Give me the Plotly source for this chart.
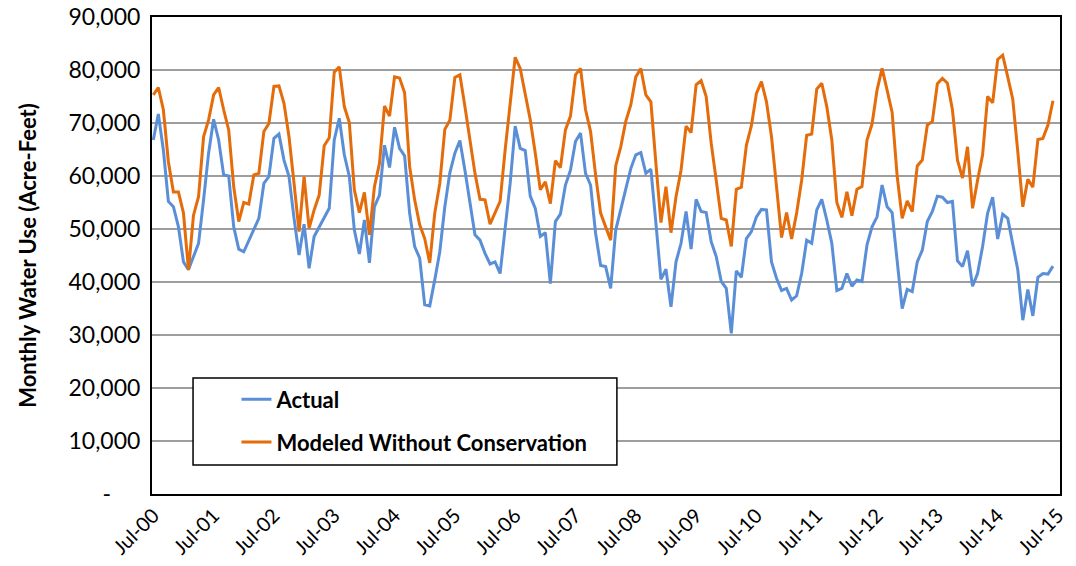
import plotly.graph_objects as go

# Monthly values, Jul-2000 .. Jun-2015 (thousands of acre-feet)
actual_k = [
    66.8, 71.7, 64.9, 55.2, 54.2, 50.4, 43.8, 42.3, 44.8, 47.3, 55.5, 64.3,
    70.7, 66.8, 60.2, 60.0, 50.4, 46.2, 45.7, 47.9, 50.1, 52.0, 58.6, 59.9,
    67.1, 67.9, 63.0, 59.9, 52.0, 45.1, 50.9, 42.6, 48.6, 50.4, 52.3, 53.9,
    66.8, 70.9, 64.0, 59.9, 49.8, 45.3, 51.7, 43.6, 54.2, 56.4, 65.8, 61.6,
    69.2, 65.2, 63.8, 53.0, 46.7, 44.5, 35.7, 35.5, 40.4, 45.7, 54.2, 60.6,
    64.3, 66.7, 61.1, 54.8, 48.9, 47.9, 45.4, 43.4, 43.8, 41.6, 50.4, 58.6,
    69.4, 65.2, 64.8, 56.2, 53.9, 48.6, 49.3, 39.7, 51.4, 52.8, 58.3, 61.1,
    66.5, 68.1, 60.5, 58.3, 49.2, 43.1, 42.9, 38.8, 49.8, 53.6, 57.7, 61.4,
    64.0, 64.4, 60.5, 61.3, 51.1, 40.5, 42.4, 35.3, 43.8, 47.3, 53.3, 46.2,
    55.6, 53.3, 53.1, 47.6, 44.8, 40.1, 38.8, 30.3, 42.1, 40.9, 48.2, 49.5,
    52.3, 53.7, 53.6, 43.8, 40.7, 38.4, 38.8, 36.6, 37.4, 41.6, 47.9, 47.3,
    53.6, 55.6, 51.7, 47.3, 38.4, 38.8, 41.6, 39.2, 40.4, 40.1, 47.0, 50.4,
    52.3, 58.3, 54.2, 53.1, 44.0, 35.0, 38.6, 38.2, 43.8, 46.0, 51.4, 53.3,
    56.2, 56.0, 55.0, 55.2, 44.0, 42.9, 45.9, 39.2, 41.6, 46.7, 53.0, 56.0,
    48.1, 52.8, 52.0, 47.2, 42.3, 32.8, 38.6, 33.6, 40.9, 41.6, 41.5, 43.0,
]

modeled_k = [
    75.3, 76.7, 72.5, 62.7, 57.0, 57.0, 53.0, 42.3, 52.6, 56.1, 67.4, 70.6,
    75.3, 76.7, 72.5, 68.7, 58.0, 51.4, 55.0, 54.7, 60.2, 60.5, 68.4, 69.9,
    76.9, 77.0, 73.7, 67.4, 58.6, 49.5, 59.9, 50.1, 53.6, 56.4, 65.7, 67.2,
    79.6, 80.6, 73.1, 70.1, 57.4, 53.1, 56.9, 48.9, 58.0, 62.4, 73.2, 71.3,
    78.7, 78.5, 75.7, 61.8, 55.5, 50.8, 48.2, 43.6, 53.0, 58.6, 68.8, 70.5,
    78.6, 79.1, 73.1, 66.8, 60.5, 55.6, 55.5, 50.9, 53.0, 55.2, 64.9, 73.1,
    82.4, 80.3, 75.6, 70.6, 64.3, 57.4, 58.9, 54.8, 62.9, 61.6, 68.7, 71.3,
    79.1, 80.3, 72.5, 68.4, 60.2, 53.0, 50.4, 47.9, 61.9, 65.5, 70.3, 73.4,
    78.7, 80.3, 75.3, 74.0, 62.4, 51.2, 58.0, 49.3, 56.1, 61.1, 69.4, 68.2,
    77.2, 78.0, 75.0, 66.2, 59.2, 52.0, 51.7, 46.7, 57.5, 57.9, 65.8, 69.5,
    75.6, 77.8, 74.0, 67.4, 58.0, 48.4, 53.1, 48.1, 53.0, 59.2, 67.7, 67.9,
    76.4, 77.5, 73.1, 66.8, 55.0, 52.2, 57.0, 52.5, 57.5, 58.0, 66.8, 69.8,
    76.2, 80.3, 76.2, 72.0, 60.0, 52.0, 55.3, 53.3, 61.9, 63.0, 69.6, 70.3,
    77.4, 78.4, 77.5, 72.5, 63.0, 59.6, 65.5, 53.9, 59.2, 64.0, 75.0, 73.8,
    82.0, 82.8, 78.7, 74.5, 64.6, 54.2, 59.4, 57.9, 66.9, 67.1, 69.6, 74.2,
]

tick_labels = ["Jul-%02d" % y for y in range(0, 16)]
y_tick_values = list(range(0, 90001, 10000))
y_tick_labels = ["-" + "\u00a0" * 5] + ["{:,}".format(v) for v in y_tick_values[1:]]

month_index = list(range(len(actual_k)))
actual = [v * 1000 for v in actual_k]
modeled = [v * 1000 for v in modeled_k]

FONT = "Lato, 'Open Sans', sans-serif"

fig = go.Figure()
fig.add_trace(go.Scatter(
    x=month_index, y=actual, mode="lines", name="<b>Actual</b>",
    legendgroup="a", line=dict(color="#5A8FD8", width=3)))
fig.add_trace(go.Scatter(
    x=month_index, y=modeled, mode="lines",
    name="<b>Modeled Without Conservation</b>",
    legendgroup="b", line=dict(color="#E46C0A", width=3)))

fig.update_layout(
    width=1076, height=566,
    margin=dict(l=152, r=16, t=17, b=72, autoexpand=False),
    paper_bgcolor="white", plot_bgcolor="white",
    font=dict(family=FONT, color="black"),
    showlegend=True,
    legend=dict(
        x=0.093, y=0.242, xanchor="left", yanchor="top",
        bgcolor="rgba(0,0,0,0)", borderwidth=0,
        font=dict(family=FONT, size=22, color="black"),
        traceorder="grouped", tracegroupgap=11,
    ),
    shapes=[dict(
        type="rect", xref="paper", yref="paper",
        x0=0.0452, x1=0.512, y0=0.061, y1=0.2432,
        line=dict(color="black", width=1.5), fillcolor="white", layer="above",
    )],
)

fig.update_xaxes(
    range=[-0.26, 180.4],
    tickmode="array",
    tickvals=[12 * k for k in range(len(tick_labels))],
    ticktext=tick_labels,
    tickangle=-45,
    tickfont=dict(family=FONT, size=20, color="black"),
    ticklabeloverflow="allow",
    showgrid=False, zeroline=False,
    showline=True, mirror=True, linecolor="black", linewidth=2,
    ticks="",
)

fig.update_yaxes(
    range=[0, 90000],
    tickmode="array",
    tickvals=y_tick_values,
    ticktext=y_tick_labels,
    tickfont=dict(family=FONT, size=23, color="black"),
    ticklabeloverflow="allow",
    showgrid=True, gridcolor="#9E9E9E", gridwidth=2,
    zeroline=False,
    showline=True, mirror=True, linecolor="black", linewidth=2,
    ticks="outside", ticklen=5, tickcolor="rgba(0,0,0,0)",
    title=dict(text="<b>Monthly Water Use (Acre-Feet)</b>",
               font=dict(family=FONT, size=22, color="black"), standoff=26),
)

fig.write_html("out.html", config={"displayModeBar": False},
               post_script="document.body.style.margin='0';")
